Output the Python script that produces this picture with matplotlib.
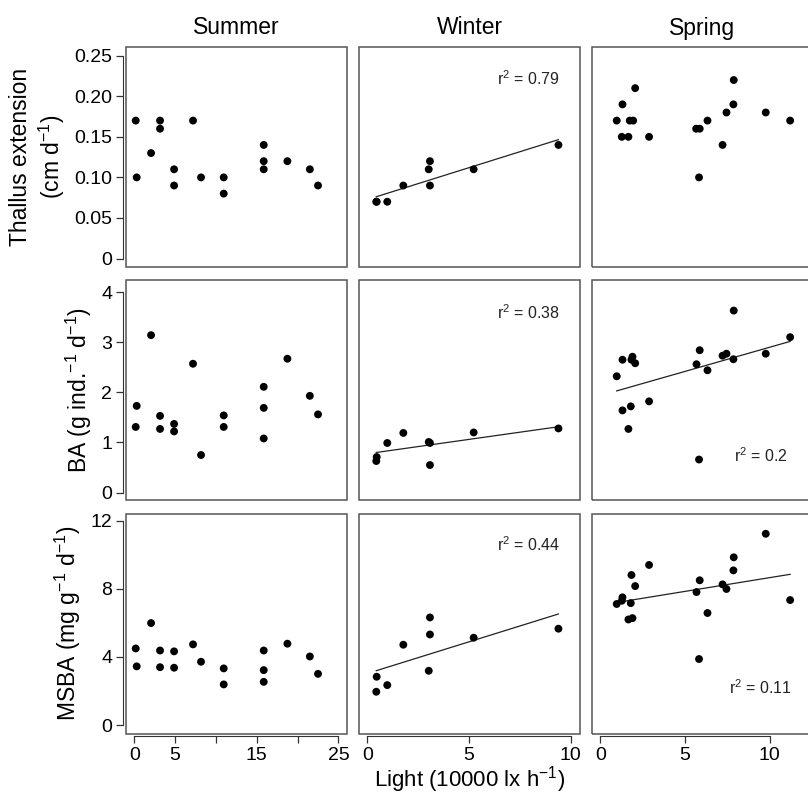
import numpy as np
import matplotlib
matplotlib.use('Agg')
import matplotlib.pyplot as plt
from matplotlib.patches import Rectangle

plt.rcParams['font.family'] = ['Liberation Sans', 'DejaVu Sans']
plt.rcParams['mathtext.fontset'] = 'custom'
plt.rcParams['mathtext.rm'] = 'Liberation Sans'
plt.rcParams['mathtext.it'] = 'Liberation Sans'
plt.rcParams['mathtext.default'] = 'regular'

seasons = ['Summer', 'Winter', 'Spring']

# light values (10000 lx h-1) per season
summer_light = [0.17, 0.29, 2.05, 3.15, 3.15, 4.87, 4.87, 7.19, 8.17, 10.95, 10.95, 15.85, 15.85, 15.85, 18.75, 21.5, 22.5]
summer_thallus = [0.17, 0.10, 0.13, 0.17, 0.16, 0.11, 0.09, 0.17, 0.10, 0.10, 0.08, 0.14, 0.12, 0.11, 0.12, 0.11, 0.09]
summer_light_ba = [0.17, 0.29, 2.05, 3.15, 3.15, 4.87, 4.87, 7.19, 8.17, 10.95, 10.95, 15.85, 15.85, 15.85, 18.75, 21.5, 22.5]
summer_ba = [1.31, 1.73, 3.14, 1.53, 1.27, 1.37, 1.22, 2.57, 0.75, 1.54, 1.31, 2.11, 1.69, 1.08, 2.67, 1.93, 1.56]
summer_msba = [4.50, 3.45, 5.99, 4.38, 3.40, 4.33, 3.37, 4.74, 3.72, 3.33, 2.39, 4.38, 3.23, 2.54, 4.78, 4.03, 3.01]

winter_light = [0.44, 0.46, 0.98, 1.77, 3.02, 3.08, 3.08, 5.23, 9.40]
winter_thallus = [0.07, 0.07, 0.07, 0.09, 0.11, 0.12, 0.09, 0.11, 0.14]
winter_ba = [0.63, 0.71, 0.99, 1.19, 1.01, 0.99, 0.55, 1.20, 1.28]
winter_msba = [1.96, 2.84, 2.35, 4.72, 3.19, 6.32, 5.32, 5.13, 5.66]

spring_light_th = [0.96, 1.30, 2.05, 1.73, 1.93, 1.26, 1.65, 2.87, 5.65, 5.86, 5.82, 6.32, 7.21, 7.44, 7.87, 7.85, 9.76, 11.2]
spring_thallus = [0.17, 0.19, 0.21, 0.17, 0.17, 0.15, 0.15, 0.15, 0.16, 0.16, 0.10, 0.17, 0.14, 0.18, 0.22, 0.19, 0.18, 0.17]
spring_light = [0.96, 1.30, 1.89, 1.83, 2.05, 1.30, 1.79, 1.65, 2.87, 5.67, 5.86, 5.82, 6.32, 7.21, 7.44, 7.87, 7.85, 9.76, 11.2]
spring_ba = [2.32, 2.65, 2.71, 2.65, 2.58, 1.64, 1.72, 1.27, 1.82, 2.56, 2.84, 0.66, 2.44, 2.73, 2.77, 3.63, 2.66, 2.77, 3.10]
spring_light_ms = [0.96, 1.30, 1.26, 1.79, 1.83, 2.05, 1.65, 1.89, 2.87, 5.67, 5.86, 5.82, 6.32, 7.21, 7.44, 7.87, 7.85, 9.76, 11.2]
spring_msba = [7.11, 7.50, 7.30, 7.16, 8.81, 8.16, 6.20, 6.28, 9.40, 7.81, 8.50, 3.88, 6.58, 8.26, 7.99, 9.85, 9.08, 11.23, 7.34]

# r2 labels (None = no regression shown)
r2_text = [[None, '0.79', None],
		   [None, '0.38', '0.2'],
		   [None, '0.44', '0.11']]

row_labels = ['Thallus extension\n(cm d$^{\u22121}$)', 'BA (g ind.$^{\u22121}$ d$^{\u22121}$)', 'MSBA (mg g$^{\u22121}$ d$^{\u22121}$)']
y_ticks = [[0, 0.05, 0.10, 0.15, 0.20, 0.25], [0, 1, 2, 3, 4], [0, 4, 8, 12]]
y_ticklabels = [['0', '0.05', '0.10', '0.15', '0.20', '0.25'], ['0', '1', '2', '3', '4'], ['0', '4', '8', '12']]
y_lims = [(-0.0098, 0.2607), (-0.137, 4.24), (-0.49, 12.39)]
x_ticks = [[0, 5, 10, 15, 20, 25], [0, 5, 10], [0, 5, 10]]
x_ticklabels = [['0', '5', '', '15', '', '25'], ['0', '5', '10'], ['0', '5', '10']]
x_lims = [(-1.02, 26.05), (-0.41, 10.46), (-0.5, 12.55)]


def main():
	fig = plt.figure(figsize=(8.08, 7.99), dpi=100)

	data = [[(summer_light, summer_thallus), (winter_light, winter_thallus), (spring_light_th, spring_thallus)],
			[(summer_light_ba, summer_ba), (winter_light, winter_ba), (spring_light, spring_ba)],
			[(summer_light, summer_msba), (winter_light, winter_msba), (spring_light_ms, spring_msba)]]

	col_left = [126, 359, 592]
	row_top = [47, 280, 514]
	w, h = 221, 219.5
	W, H = 808., 799.

	r2_pos = [[None, (0.91, 0.855), None],
			  [None, (0.91, 0.85), (0.887, 0.2)],
			  [None, (0.91, 0.86), (0.905, 0.21)]]

	for r in range(3):
		for c in range(3):
			ax = fig.add_axes([col_left[c]/W, 1 - (row_top[r] + h)/H, w/W, h/H])
			x, y = data[r][c]
			ax.scatter(x, y, s=32, color='black', edgecolors='none', zorder=3)

			if r2_text[r][c] is not None:
				k, b = np.polyfit(x, y, 1)
				xx = np.array([min(x), max(x)])
				ax.plot(xx, k*xx + b, color='#222222', lw=0.9, zorder=2)
				px, py = r2_pos[r][c]
				ax.text(px, py, 'r$^2$ = ' + r2_text[r][c], transform=ax.transAxes,
						ha='right', va='center', fontsize=11.5, color='#222222')

			ax.set_xlim(x_lims[c])
			ax.set_ylim(y_lims[r])
			for s in ax.spines.values():
				s.set_visible(False)
			# panel box
			ax.add_patch(Rectangle((0, 0), 1, 1, transform=ax.transAxes, fill=False,
								   edgecolor='#555555', lw=1.1, clip_on=False, zorder=5))

			if c == 0:
				ax.spines['left'].set_visible(True)
				ax.spines['left'].set_position(('outward', 2))
				ax.spines['left'].set_bounds(y_ticks[r][0], y_ticks[r][-1])
				ax.spines['left'].set_color('#333333')
				ax.set_yticks(y_ticks[r])
				ax.set_yticklabels(y_ticklabels[r])
				ax.set_ylabel(row_labels[r], fontsize=16.5, labelpad=5)
			else:
				ax.set_yticks([])

			if r == 2:
				ax.spines['bottom'].set_visible(True)
				ax.spines['bottom'].set_position(('outward', 2))
				ax.spines['bottom'].set_bounds(x_ticks[c][0], x_ticks[c][-1])
				ax.spines['bottom'].set_color('#333333')
				ax.set_xticks(x_ticks[c])
				ax.set_xticklabels(x_ticklabels[c])
			else:
				ax.set_xticks([])

			ax.tick_params(labelsize=14, length=5, width=0.9, color='#333333', pad=3)

			if r == 0:
				ax.set_title(seasons[c], fontsize=16.5, pad=9)

	fig.text((126 + 813) / 2 / W, 1 - 780 / H, 'Light (10000 lx h$^{\u22121}$)', ha='center', va='center', fontsize=16)

	fig.savefig('out.png', dpi=100)


if __name__ == '__main__':
	main()
